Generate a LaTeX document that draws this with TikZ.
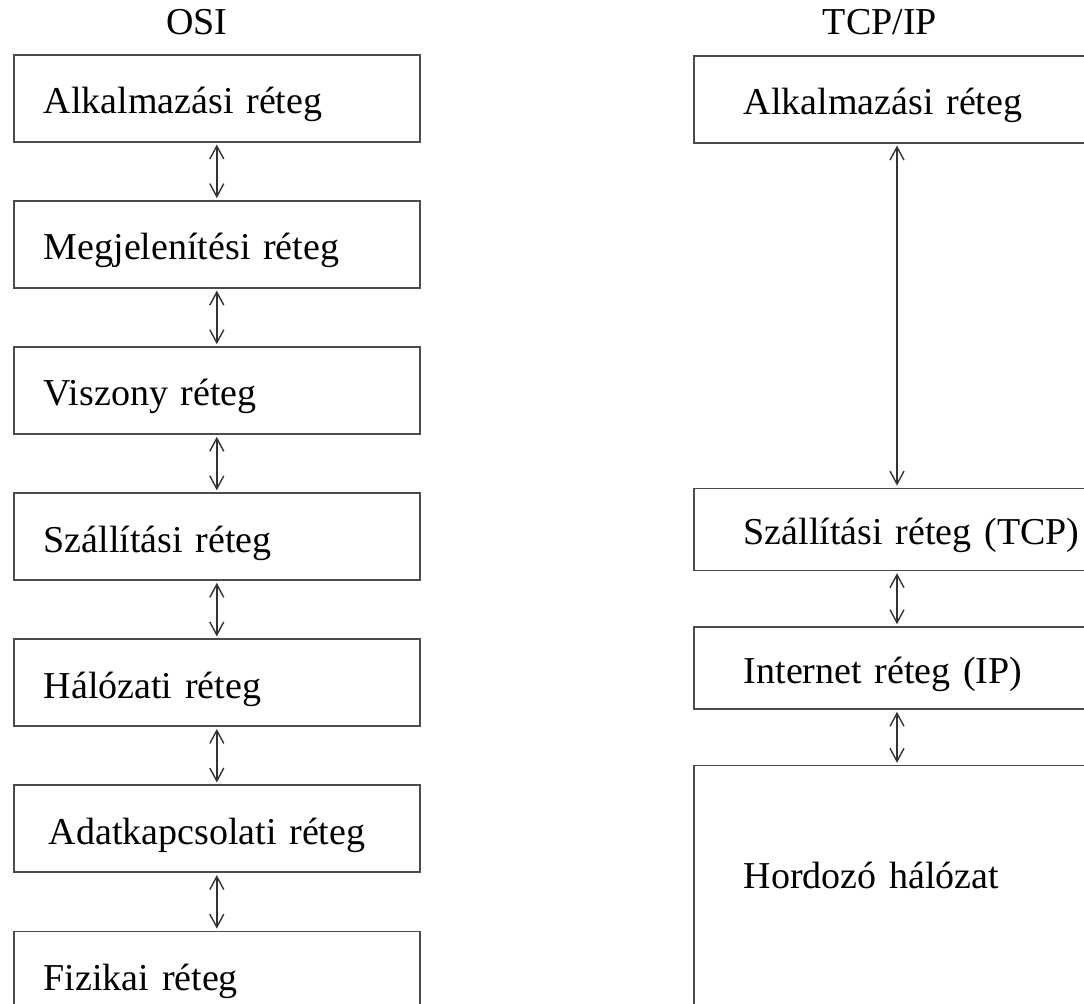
\documentclass[tikz,border=0pt]{standalone}
\usepackage{fontspec}
\setmainfont{Liberation Serif}
\usetikzlibrary{arrows.meta, positioning}

\begin{document}
\begin{tikzpicture}[x=1pt,y=1pt,node distance=28.75pt,>={Straight Barb[length=6.5pt,width=7pt]},
        font=\fontsize{19}{23}\selectfont,
        every node/.style={text=black},
        layer/.style={draw=black!70,line width=0.8pt,rectangle,align=left,inner ysep=0pt,
          text height=17pt,text depth=1.5pt,minimum height=43.5pt,text width=173pt,inner xsep=15pt},
        tcplayer/.style={layer,text width=200pt,inner xsep=25pt,minimum height=41pt},
        link/.style={<->,draw=black!80,line width=0.7pt,shorten >=1pt,shorten <=1pt}]

    \path[use as bounding box,clip] (0,0) rectangle (542,-502);

    \node[anchor=base] (osi) at (98.5,-17.5) {OSI};
    \node[anchor=base] (tcp) at (440,-17.5) {TCP/IP};

    % OSI
    \node[layer,anchor=north west] (l_1) at (6.5,-27) {Alkalmazási réteg};
    \node[layer] (l_2) [below=of l_1] {Megjelenítési réteg};
    \node[layer] (l_3) [below=of l_2] {Viszony réteg};
    \node[layer] (l_4) [below=of l_3] {Szállítási réteg};
    \node[layer] (l_5) [below=of l_4] {Hálózati réteg};
    \node[layer,inner xsep=17.5pt,text width=168pt] (l_6) [below=of l_5] {Adatkapcsolati réteg};
    \node[layer] (l_7) [below=of l_6] {Fizikai réteg};

    \foreach \i [remember=\i as \p (initially 1)] in {2,...,7}
      \draw[link] (l_\p) -- (l_\i);

    % TCP/IP
    \node[tcplayer,anchor=north west,minimum height=43.5pt] (r_1) at (346.5,-27.5) {Alkalmazási réteg};
    \node[tcplayer] (r_2) [below=172pt of r_1] {Szállítási réteg (TCP)};
    \node[tcplayer] (r_3) [below=27.5pt of r_2] {Internet réteg (IP)};
    \node[tcplayer,minimum height=140pt,text height=0pt,text depth=17pt] (r_4) [below=27.5pt of r_3] {Hordozó hálózat};

    \draw[link] ([xshift=102pt]r_1.south west) -- ([xshift=102pt]r_2.north west);
    \draw[link] ([xshift=102pt]r_2.south west) -- ([xshift=102pt]r_3.north west);
    \draw[link] ([xshift=102pt]r_3.south west) -- ([xshift=102pt]r_4.north west);
\end{tikzpicture}
\end{document}
